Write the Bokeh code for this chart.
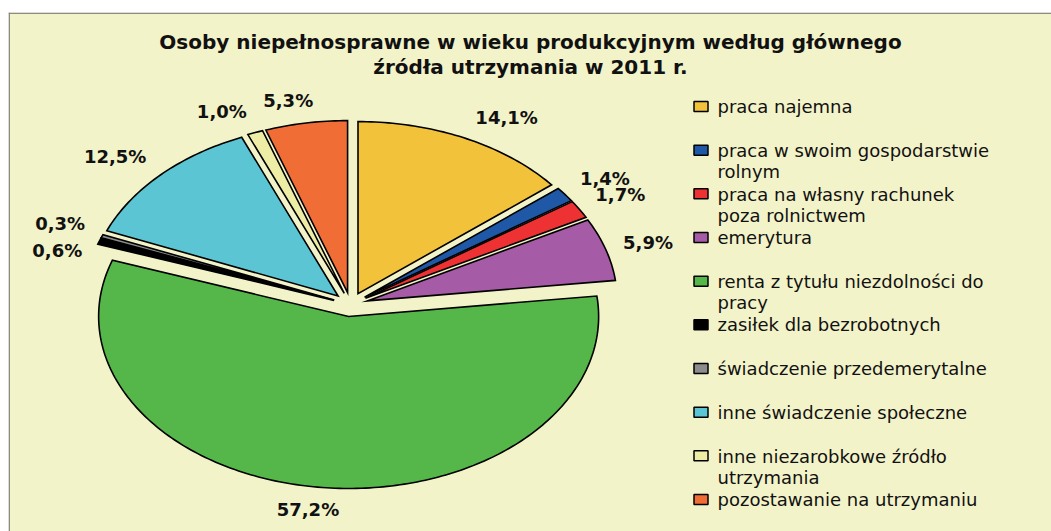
import numpy as np
from bokeh.plotting import figure
from bokeh.models import Range1d, Span, ColumnDataSource
from bokeh.core.properties import value
from bokeh.embed import file_html
from bokeh.resources import INLINE

# ---------------- data ----------------
categories = [
    "praca najemna",
    "praca w swoim gospodarstwie rolnym",
    "praca na własny rachunek poza rolnictwem",
    "emerytura",
    "renta z tytułu niezdolności do pracy",
    "zasiłek dla bezrobotnych",
    "świadczenie przedemerytalne",
    "inne świadczenie społeczne",
    "inne niezarobkowe źródło utrzymania",
    "pozostawanie na utrzymaniu",
]
shares = [14.1, 1.4, 1.7, 5.9, 57.2, 0.6, 0.3, 12.5, 1.0, 5.3]
legend_labels = [
    "praca najemna",
    "praca w swoim gospodarstwie\nrolnym",
    "praca na własny rachunek\npoza rolnictwem",
    "emerytura",
    "renta z tytułu niezdolności do\npracy",
    "zasiłek dla bezrobotnych",
    "świadczenie przedemerytalne",
    "inne świadczenie społeczne",
    "inne niezarobkowe źródło\nutrzymania",
    "pozostawanie na utrzymaniu",
]
title_text = "Osoby niepełnosprawne w wieku produkcyjnym według głównego\nźródła utrzymania w 2011 r."

# ---------------- styles / layout ----------------
colors = ["#F2C23A", "#1F58A6", "#EE3233", "#A55BA5", "#55B74A",
          "#000000", "#8C8C8C", "#5BC5D4", "#EDEDA6", "#F06E35"]
BG = "#F3F3C9"
W, H = 1051, 531
X0, Y0 = 8, 12
CX, CY, A, B = 350.0, 304.0, 250.0, 172.0
EXPLODE = 0.07
label_nudge_y = [0, 0, 0, 5, 0, 22, 0, 0, 0, 0]

p = figure(width=W, height=H, output_backend="svg", toolbar_location=None,
           x_range=Range1d(X0, W), y_range=Range1d(H, Y0),
           x_axis_location=None, y_axis_location=None,
           min_border=0, min_border_top=Y0, min_border_left=X0,
           min_border_right=0, min_border_bottom=0)
p.grid.visible = False
p.background_fill_color = BG
p.border_fill_color = "white"
p.outline_line_color = None
p.add_layout(Span(location=X0 + 0.75, dimension="height", line_color="#8A8A8A", line_width=1.5))
p.add_layout(Span(location=Y0 + 0.75, dimension="width", line_color="#8A8A8A", line_width=1.5))

# ---------------- pie slices ----------------
vals = np.array(shares, dtype=float)
frac = vals / vals.sum()
ends = np.cumsum(frac) * 2 * np.pi
starts = ends - frac * 2 * np.pi
mids = (starts + ends) / 2

xs, ys = [], []
for s, e, m in zip(starts, ends, mids):
    ox = A * EXPLODE * np.sin(m)
    oy = -B * EXPLODE * np.cos(m)
    n = max(4, int(np.degrees(e - s)) + 2)
    t = np.linspace(s, e, n)
    xs.append([CX + ox] + list(CX + ox + A * np.sin(t)))
    ys.append([CY + oy] + list(CY + oy - B * np.cos(t)))

src = ColumnDataSource(dict(xs=xs, ys=ys, color=colors, name=categories))
p.patches("xs", "ys", source=src, fill_color="color", line_color="black",
          line_width=1.6, line_join="miter")

# ---------------- value labels ----------------
labels = [f"{v:.1f}%".replace(".", ",") for v in shares]
lx, ly = [], []
for m, lab, nud in zip(mids, labels, label_nudge_y):
    sx = np.clip(np.sin(m) / 0.3, -1, 1)
    sy = np.clip(np.cos(m) / 0.3, -1, 1)
    lx.append(CX + A * 1.13 * np.sin(m) + sx * 7 * len(lab))
    ly.append(CY - B * 1.16 * np.cos(m) - sy * 7 + nud)
p.text(x=lx, y=ly, text=labels, text_font=value("DejaVu Sans"),
       text_font_style="bold", text_font_size="18px", text_color="#111111",
       text_align="center", text_baseline="middle")

# ---------------- title ----------------
p.text(x=[530], y=[54], text=[title_text], text_font=value("DejaVu Sans"),
       text_font_style="bold", text_font_size="20px", text_color="#111111",
       text_align="center", text_baseline="middle", text_line_height=1.02)

# ---------------- legend ----------------
LEG_Y0, LEG_STEP, LINE_H = 106.0, 43.67, 21.5
FS = 18
leg_y = [LEG_Y0 + i * LEG_STEP for i in range(len(categories))]
p.rect(x=[700.5] * len(leg_y), y=leg_y, width=14, height=10,
       fill_color=colors, line_color="black", line_width=1.5)
txt_y = [y + (lab.count("\n")) * LINE_H / 2 for y, lab in zip(leg_y, legend_labels)]
p.text(x=[717] * len(leg_y), y=txt_y, text=legend_labels, text_font=value("DejaVu Sans"),
       text_font_size=f"{FS}px", text_color="#111111", text_align="left",
       text_baseline="middle", text_line_height=1.0)

open("out.html", "w").write(file_html(p, INLINE))
